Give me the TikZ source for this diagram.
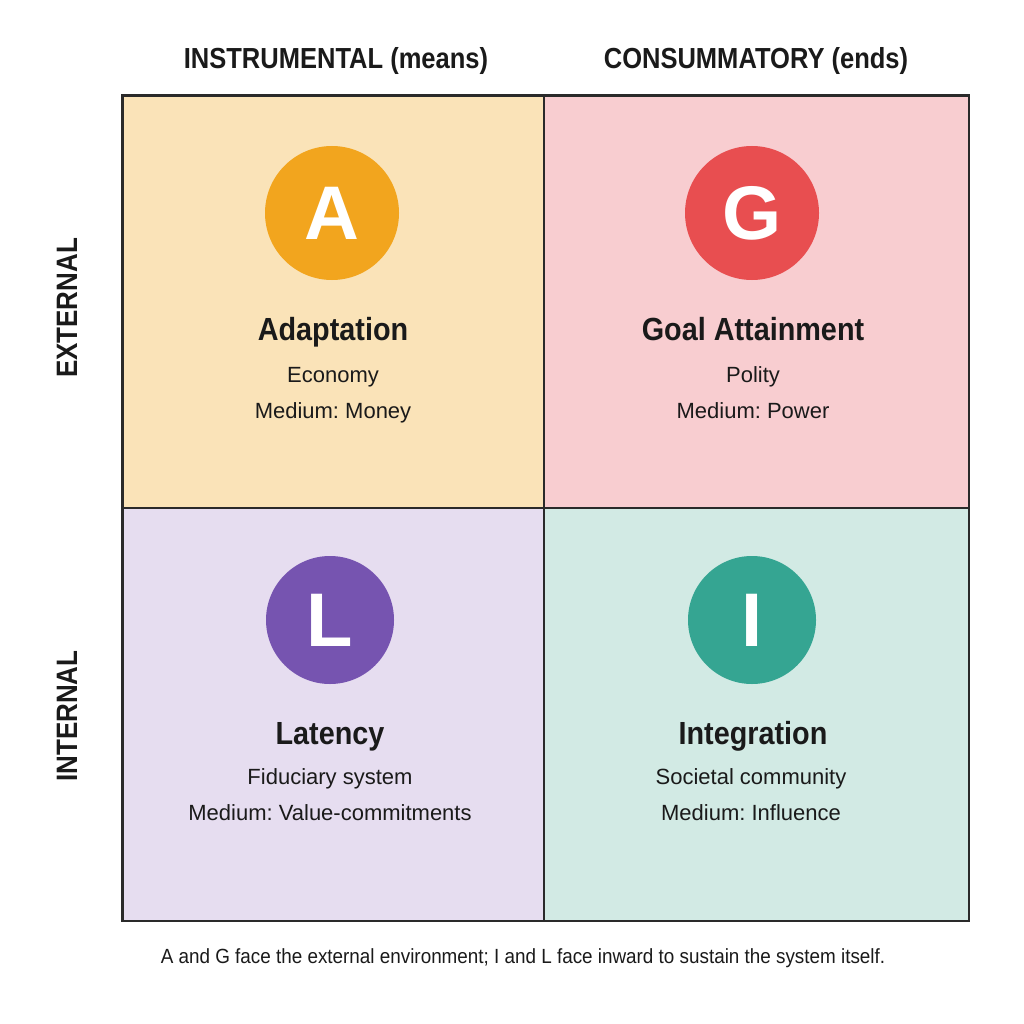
\documentclass[tikz,border=0pt]{standalone}
\usepackage{fontspec}
\setmainfont{Liberation Sans}
\frenchspacing
\newfontfamily\condbold[FakeStretch=0.9]{Liberation Sans Bold}
\newfontfamily\headbold[FakeStretch=0.88]{Liberation Sans Bold}
\newfontfamily\fullbold{Liberation Sans Bold}
\newfontfamily\subreg{Liberation Sans}
\newfontfamily\condreg[FakeStretch=0.92]{Liberation Sans}
\definecolor{aFill}{HTML}{FAE3B8}
\definecolor{aCirc}{HTML}{F2A51E}
\definecolor{gFill}{HTML}{F8CDD0}
\definecolor{gCirc}{HTML}{E84E50}
\definecolor{lFill}{HTML}{E6DDF0}
\definecolor{lCirc}{HTML}{7654B0}
\definecolor{iFill}{HTML}{D2EAE4}
\definecolor{iCirc}{HTML}{35A592}
\definecolor{ink}{HTML}{1A1A1A}
\definecolor{edge}{HTML}{2A2A2A}
\tikzset{
  quad/.style={draw=edge, line width=1.6pt, minimum height=412pt, inner sep=0pt, anchor=north west},
  badge/.style={circle, minimum size=134pt, inner sep=0pt, text=white, font=\fullbold\fontsize{76}{76}\selectfont},
  title/.style={text=ink, font=\condbold\fontsize{32}{34}\selectfont, inner sep=0pt, anchor=base},
  sub/.style={text=ink, font=\subreg\fontsize{22}{24}\selectfont, inner sep=0pt, anchor=base},
  header/.style={text=ink, font=\headbold\fontsize{29}{30}\selectfont, inner sep=0pt, anchor=base},
  side/.style={text=ink, font=\headbold\fontsize{29.5}{30}\selectfont, inner sep=0pt, rotate=90},
  caption/.style={text=ink, font=\condreg\fontsize{20.5}{22}\selectfont, inner sep=0pt}
}
\begin{document}
\begin{tikzpicture}[x=1pt,y=-1pt]
\useasboundingbox[fill=white] (0,0) rectangle (1024,1024);
% quadrants
\node[quad, fill=aFill, minimum width=421pt] (qa) at (122,95) {};
\node[quad, fill=gFill, minimum width=425pt] (qg) at (543,95) {};
\node[quad, fill=lFill, minimum width=421pt, minimum height=413pt] (ql) at (122,507) {};
\node[quad, fill=iFill, minimum width=425pt, minimum height=413pt] (qi) at (543,507) {};
\draw[edge, line width=1.6pt] (qa.north west) rectangle (qi.south east);
% headers
\node[header] (h1) at (336,69) {INSTRUMENTAL (means)};
\node[header] (h2) at (756,69) {CONSUMMATORY (ends)};
\node[side] (s1) at (67,308) {EXTERNAL};
\node[side] (s2) at (67,716) {INTERNAL};
% A
\node[badge, fill=aCirc] (ca) at (332,213) {A};
\node[title] (ta) at (333,340) {Adaptation};
\node[sub] (ua) at (333,382) {Economy};
\node[sub] (va) at (333,418) {Medium: Money};
% G
\node[badge, fill=gCirc] (cg) at (752,213) {G};
\node[title] (tg) at (753,340) {Goal Attainment};
\node[sub] (ug) at (753,382) {Polity};
\node[sub] (vg) at (753,418) {Medium: Power};
% L
\node[badge, fill=lCirc, minimum size=128pt] (cl) at (330,620) {L};
\node[title] (tl) at (330,744) {Latency};
\node[sub] (ul) at (330,784) {Fiduciary system};
\node[sub] (vl) at (330,820) {Medium: Value-commitments};
% I
\node[badge, fill=iCirc, minimum size=128pt] (ci) at (752,620) {I};
\node[title] (ti) at (753,744) {Integration};
\node[sub] (ui) at (751,784) {Societal community};
\node[sub] (vi) at (751,820) {Medium: Influence};
% caption
\node[caption] (cap) at (523,958) {A and G face the external environment; I and L face inward to sustain the system itself.};
\end{tikzpicture}
\end{document}
